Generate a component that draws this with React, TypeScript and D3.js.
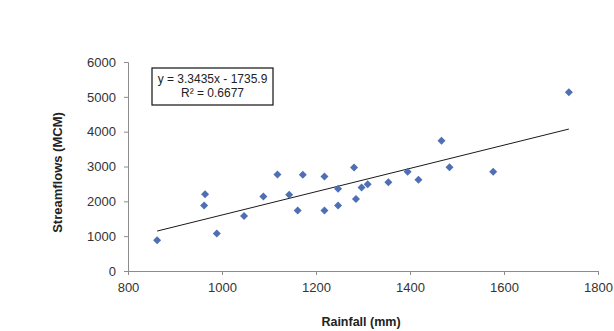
import React, { useEffect, useRef } from 'react';
import * as d3 from 'd3';

// rainfall (mm) vs streamflow (MCM)
const rainfall = [862, 962, 964, 989, 1047, 1088, 1118, 1143, 1161, 1172, 1218, 1218, 1247, 1247, 1281, 1285, 1297, 1310, 1354, 1395, 1418, 1467, 1484, 1577, 1738];
const streamflow = [880, 1880, 2200, 1080, 1580, 2140, 2770, 2190, 1740, 2760, 2710, 1740, 2360, 1880, 2970, 2070, 2400, 2490, 2550, 2850, 2620, 3740, 2980, 2850, 5130];

const xTicks = [800, 1000, 1200, 1400, 1600, 1800];
const yTicks = [0, 1000, 2000, 3000, 4000, 5000, 6000];

// trendline from the equation label
const slope = 3.3435;
const intercept = -1735.9;
const equationLines = ['y = 3.3435x - 1735.9', 'R² = 0.6677'];

const W = 614;
const H = 331;
const FONT = '"Liberation Sans", Arial, sans-serif';

const App = () => {
  const svgRef = useRef<SVGSVGElement>(null);

  useEffect(() => {
    const svg = d3.select(svgRef.current);
    svg.selectAll('*').remove();

    const margin = { top: 62, right: 16, bottom: 60, left: 128 };
    const x = d3.scaleLinear().domain([800, 1800]).range([margin.left, W - margin.right]);
    const y = d3.scaleLinear().domain([0, 6000]).range([H - margin.bottom, margin.top]);

    svg.append('rect').attr('width', W).attr('height', H).attr('fill', '#fff');

    // Y axis
    const yAxis = svg.append('g')
      .attr('transform', `translate(${margin.left},0)`)
      .call(d3.axisLeft(y).tickValues(yTicks).tickSize(4).tickPadding(8).tickFormat(d3.format('d')));
    yAxis.select('.domain').attr('stroke', '#8c8c8c');
    yAxis.selectAll('line').attr('stroke', '#8c8c8c');
    yAxis.selectAll('text')
      .style('font-family', FONT)
      .style('font-size', '13px')
      .attr('fill', '#333');

    // X axis
    const xAxis = svg.append('g')
      .attr('transform', `translate(0,${H - margin.bottom})`)
      .call(d3.axisBottom(x).tickValues(xTicks).tickSize(4).tickPadding(8).tickFormat(d3.format('d')));
    xAxis.select('.domain').attr('stroke', '#8c8c8c');
    xAxis.selectAll('line').attr('stroke', '#8c8c8c');
    xAxis.selectAll('text')
      .style('font-family', FONT)
      .style('font-size', '13px')
      .attr('fill', '#333');

    // axis titles
    svg.append('text')
      .attr('x', x(1300) - 2)
      .attr('y', 326)
      .attr('text-anchor', 'middle')
      .style('font-family', FONT)
      .style('font-size', '12.5px')
      .style('font-weight', 'bold')
      .attr('fill', '#222')
      .text('Rainfall (mm)');

    svg.append('text')
      .attr('transform', `translate(62,${y(3000) + 6}) rotate(-90)`)
      .attr('text-anchor', 'middle')
      .style('font-family', FONT)
      .style('font-size', '13px')
      .style('font-weight', 'bold')
      .attr('fill', '#222')
      .text('Streamflows (MCM)');

    // trendline
    const xMin = d3.min(rainfall) as number;
    const xMax = d3.max(rainfall) as number;
    svg.append('line')
      .attr('x1', x(xMin))
      .attr('y1', y(slope * xMin + intercept))
      .attr('x2', x(xMax))
      .attr('y2', y(slope * xMax + intercept))
      .attr('stroke', '#1a1a1a')
      .attr('stroke-width', 1);

    // diamond markers
    const diamond = d3.symbol().type(d3.symbolSquare).size(32);
    svg.append('g')
      .selectAll('path')
      .data(rainfall.map((r, i) => [r, streamflow[i]]))
      .enter()
      .append('path')
      .attr('d', diamond)
      .attr('transform', d => `translate(${x(d[0])},${y(d[1])}) rotate(45)`)
      .attr('fill', '#4f6fb3');

    // equation box
    const box = svg.append('g').attr('transform', `translate(152,68)`);
    box.append('rect')
      .attr('width', 121)
      .attr('height', 37)
      .attr('fill', '#fff')
      .attr('stroke', '#111')
      .attr('stroke-width', 1.2);
    equationLines.forEach((t, i) => {
      box.append('text')
        .attr('x', 60.5)
        .attr('y', 15 + i * 14)
        .attr('text-anchor', 'middle')
        .style('font-family', FONT)
        .style('font-size', '12px')
        .attr('fill', '#222')
        .text(t);
    });
  }, []);

  return (
    <div style={{ position: 'fixed', left: 0, top: 0 }}>
      <svg ref={svgRef} width={W} height={H} style={{ display: 'block' }}></svg>
    </div>
  );
};

export default App;
